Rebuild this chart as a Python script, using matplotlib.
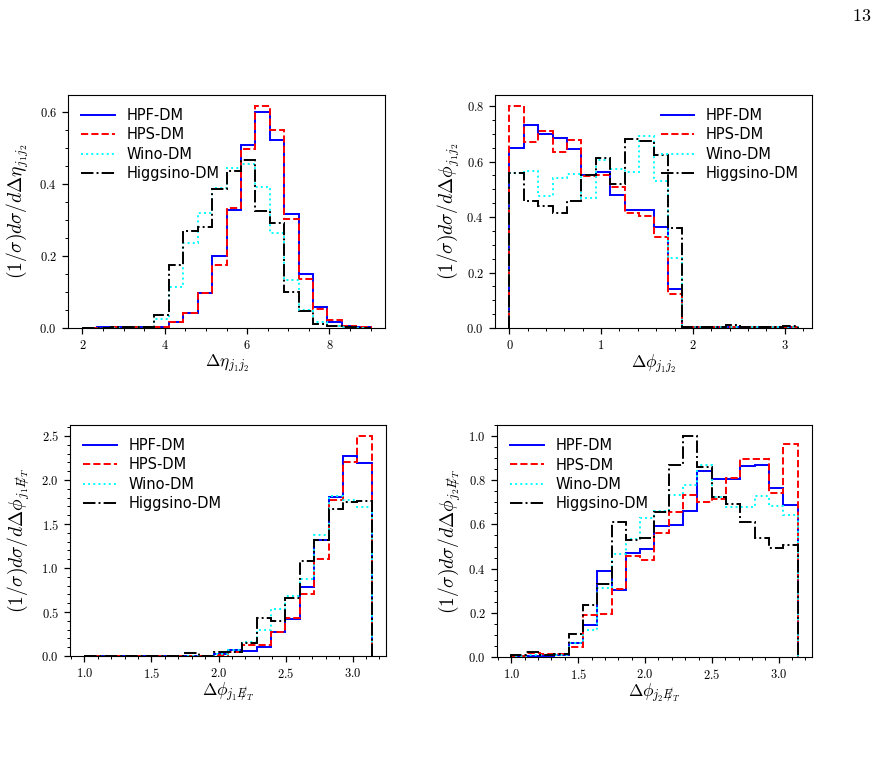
import numpy as np
import matplotlib
matplotlib.use("Agg")
import matplotlib.pyplot as plt
from matplotlib.lines import Line2D
from matplotlib.ticker import MultipleLocator, FormatStrFormatter

plt.rcParams['mathtext.fontset'] = 'cm'
plt.rcParams['font.family'] = ['DejaVu Sans']

labels = ["HPF-DM", "HPS-DM", "Wino-DM", "Higgsino-DM"]
colors = ["blue", "red", "cyan", "black"]
styles = ["-", "--", ":", "-."]

# delta eta (j1, j2): 20 bins from 2 to 9
edges_deta = np.linspace(2.0, 9.0, 21)
hpf_deta = [0.001, 0.002, 0.002, 0.002, 0.002, 0.003, 0.016, 0.041, 0.096, 0.200,
            0.329, 0.510, 0.600, 0.523, 0.316, 0.149, 0.057, 0.016, 0.006, 0.002]
hps_deta = [0.001, 0.001, 0.002, 0.002, 0.002, 0.003, 0.016, 0.043, 0.098, 0.175,
            0.334, 0.498, 0.617, 0.550, 0.302, 0.136, 0.053, 0.023, 0.006, 0.002]
wino_deta = [0.001, 0.001, 0.001, 0.002, 0.003, 0.024, 0.115, 0.236, 0.320, 0.390,
             0.445, 0.456, 0.391, 0.265, 0.133, 0.050, 0.018, 0.006, 0.002, 0.001]
hig_deta = [0.001, 0.001, 0.002, 0.002, 0.004, 0.036, 0.176, 0.269, 0.281, 0.387,
            0.436, 0.468, 0.325, 0.292, 0.099, 0.048, 0.011, 0.006, 0.003, 0.001]

# delta phi (j1, j2): 20 bins from 0 to pi
edges_dphi = np.linspace(0.0, np.pi, 21)
hpf_dphi = [0.649, 0.733, 0.700, 0.685, 0.646, 0.551, 0.561, 0.481, 0.427, 0.427,
            0.365, 0.140, 0.004, 0.004, 0.003, 0.003, 0.002, 0.002, 0.002, 0.002]
hps_dphi = [0.800, 0.670, 0.712, 0.634, 0.679, 0.547, 0.551, 0.509, 0.416, 0.404,
            0.329, 0.122, 0.004, 0.003, 0.003, 0.003, 0.002, 0.002, 0.002, 0.002]
wino_dphi = [0.559, 0.567, 0.475, 0.539, 0.554, 0.469, 0.605, 0.572, 0.563, 0.691,
             0.530, 0.254, 0.004, 0.003, 0.003, 0.003, 0.002, 0.002, 0.002, 0.002]
hig_dphi = [0.557, 0.457, 0.439, 0.413, 0.458, 0.551, 0.613, 0.518, 0.681, 0.674,
            0.625, 0.361, 0.005, 0.004, 0.005, 0.012, 0.004, 0.004, 0.004, 0.008]

# delta phi (j1, MET): 20 bins from 1 to pi
edges_met = np.linspace(1.0, np.pi, 21)
hpf_dphi1 = [0.002, 0.002, 0.002, 0.003, 0.003, 0.003, 0.003, 0.004, 0.005, 0.020,
             0.068, 0.060, 0.100, 0.270, 0.416, 0.787, 1.316, 1.808, 2.273, 2.197]
hps_dphi1 = [0.002, 0.002, 0.002, 0.003, 0.003, 0.003, 0.003, 0.004, 0.005, 0.010,
             0.040, 0.120, 0.125, 0.270, 0.435, 0.703, 1.100, 1.770, 2.205, 2.500]
wino_dphi1 = [0.002, 0.002, 0.002, 0.003, 0.003, 0.003, 0.003, 0.004, 0.005, 0.020,
              0.068, 0.163, 0.300, 0.530, 0.680, 0.874, 1.373, 1.815, 1.770, 1.694]
hig_dphi1 = [0.001, 0.002, 0.002, 0.002, 0.003, 0.003, 0.003, 0.030, 0.005, 0.050,
             0.040, 0.144, 0.435, 0.400, 0.654, 1.078, 1.316, 1.675, 1.750, 1.760]

# delta phi (j2, MET): 20 bins from 1 to pi
hpf_dphi2 = [0.005, 0.005, 0.005, 0.010, 0.062, 0.144, 0.387, 0.303, 0.470, 0.489,
             0.595, 0.598, 0.663, 0.841, 0.806, 0.806, 0.864, 0.870, 0.764, 0.690]
hps_dphi2 = [0.005, 0.017, 0.014, 0.014, 0.044, 0.190, 0.194, 0.310, 0.455, 0.440,
             0.561, 0.658, 0.735, 0.700, 0.713, 0.810, 0.894, 0.894, 0.741, 0.965]
wino_dphi2 = [0.005, 0.008, 0.008, 0.010, 0.065, 0.122, 0.312, 0.466, 0.534, 0.628,
              0.663, 0.735, 0.780, 0.870, 0.723, 0.678, 0.680, 0.730, 0.685, 0.643]
hig_dphi2 = [0.011, 0.023, 0.010, 0.014, 0.104, 0.234, 0.330, 0.610, 0.530, 0.540,
             0.658, 0.870, 1.000, 0.860, 0.723, 0.693, 0.613, 0.540, 0.493, 0.507]

met = r"E\!\!\!/_T"
panels = [
    dict(pos=[68, 95, 385, 328], edges=edges_deta,
         data=[hpf_deta, hps_deta, wino_deta, hig_deta],
         xlabel=r"$\Delta\eta_{j_1j_2}$",
         ylabel=r"$(1/\sigma)d\sigma/d\Delta\eta_{j_1j_2}$",
         xmaj=2, xmin=0.5, ymaj=0.2, ymin=0.05, xfmt="$%d$", yfmt="$%.1f$",
         loc="upper left", ylx=31),
    dict(pos=[495, 95, 812, 328], edges=edges_dphi,
         data=[hpf_dphi, hps_dphi, wino_dphi, hig_dphi],
         xlabel=r"$\Delta\phi_{j_1j_2}$",
         ylabel=r"$(1/\sigma)d\sigma/d\Delta\phi_{j_1j_2}$",
         xmaj=1, xmin=0.2, ymaj=0.2, ymin=0.05, xfmt="$%d$", yfmt="$%.1f$",
         loc="upper right", ylx=462),
    dict(pos=[70, 425, 386, 656], edges=edges_met,
         data=[hpf_dphi1, hps_dphi1, wino_dphi1, hig_dphi1],
         xlabel=r"$\Delta\phi_{j_1" + met + "}$",
         ylabel=r"$(1/\sigma)d\sigma/d\Delta\phi_{j_1" + met + "}$",
         xmaj=0.5, xmin=0.1, ymaj=0.5, ymin=0.1, xfmt="$%.1f$", yfmt="$%.1f$",
         loc="upper left", ylx=31),
    dict(pos=[497, 425, 812, 657], edges=edges_met,
         data=[hpf_dphi2, hps_dphi2, wino_dphi2, hig_dphi2],
         xlabel=r"$\Delta\phi_{j_2" + met + "}$",
         ylabel=r"$(1/\sigma)d\sigma/d\Delta\phi_{j_2" + met + "}$",
         xmaj=0.5, xmin=0.1, ymaj=0.2, ymin=0.05, xfmt="$%.1f$", yfmt="$%.1f$",
         loc="upper left", ylx=462),
]

W, H = 885, 770
fig = plt.figure(figsize=(W / 100, H / 100), dpi=100)

handles = [Line2D([], [], color=c, linestyle=ls, linewidth=1.4)
           for c, ls in zip(colors, styles)]

for p in panels:
    l, t, r, b = p["pos"]
    ax = fig.add_axes([l / W, 1 - b / H, (r - l) / W, (b - t) / H])
    for vals, lab, c, ls in zip(p["data"], labels, colors, styles):
        ax.hist(p["edges"][:-1], bins=p["edges"], weights=vals, histtype="step",
                color=c, linestyle=ls, linewidth=1.4, label=lab)
    ax.xaxis.set_major_locator(MultipleLocator(p["xmaj"]))
    ax.xaxis.set_minor_locator(MultipleLocator(p["xmin"]))
    ax.yaxis.set_major_locator(MultipleLocator(p["ymaj"]))
    ax.yaxis.set_minor_locator(MultipleLocator(p["ymin"]))
    ax.xaxis.set_major_formatter(FormatStrFormatter(p["xfmt"]))
    ax.yaxis.set_major_formatter(FormatStrFormatter(p["yfmt"]))
    ax.tick_params(which="major", length=4.5, width=0.9, labelsize=9)
    ax.tick_params(which="minor", length=2.5, width=0.7)
    ax.set_xlabel(p["xlabel"], fontsize=12.5)
    ax.set_ylabel(p["ylabel"], fontsize=14)
    ax.xaxis.set_label_coords(0.5, -0.105)
    ax.yaxis.set_label_coords((p["ylx"] - l) / (r - l), 0.5)
    ax.legend(handles, labels, loc=p["loc"], frameon=False, fontsize=10.5,
              handlelength=2.3, labelspacing=0.3)

fig.text(862 / W, 1 - 16 / H, "$13$", ha="center", va="center", fontsize=13)

fig.savefig("out.png", dpi=100)
